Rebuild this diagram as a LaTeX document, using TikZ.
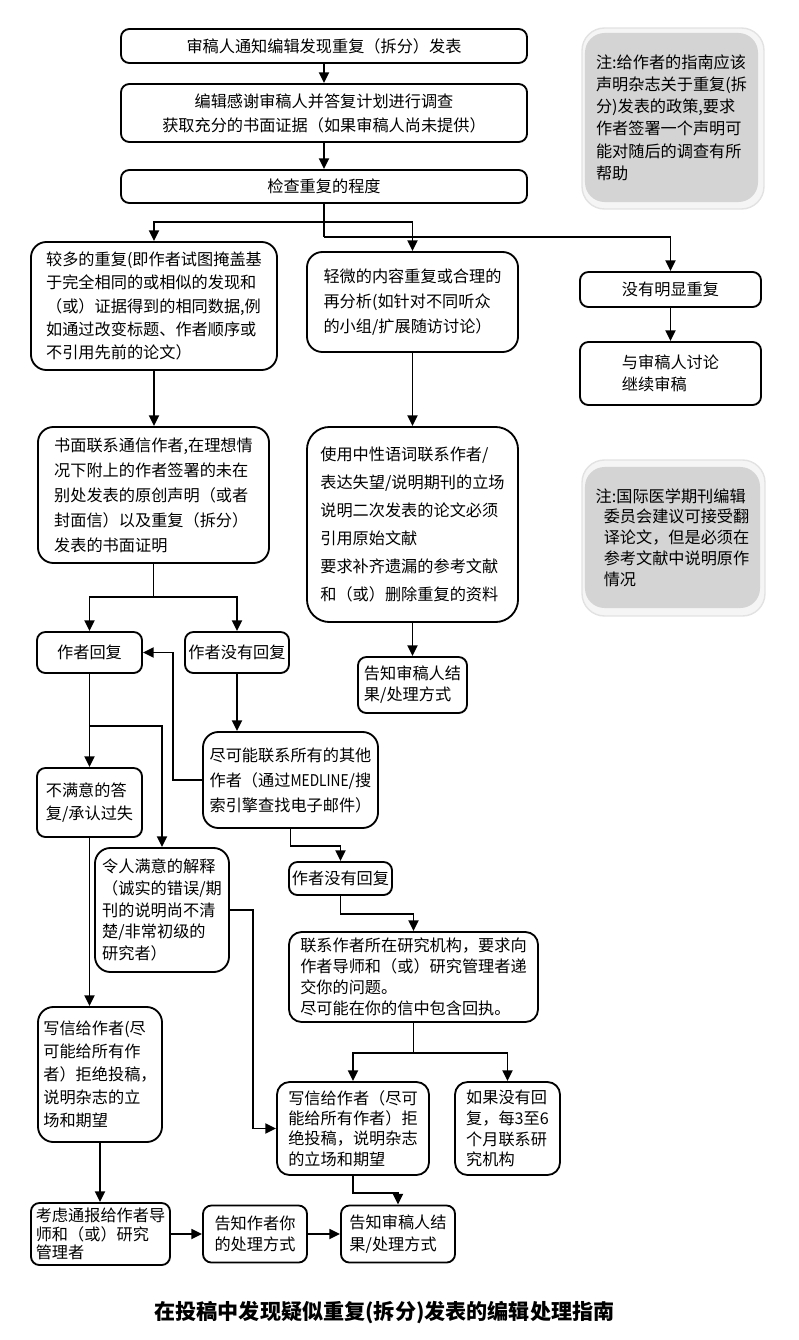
\documentclass[tikz,border=0pt]{standalone}
\usepackage{fontspec}
\setmainfont{Noto Sans CJK SC}
\usetikzlibrary{arrows.meta,positioning}
\definecolor{notegray}{HTML}{D4D4D4}
\definecolor{notehalo}{HTML}{F5F5F5}
\definecolor{haloedge}{HTML}{E2E2E2}

\begin{document}
\begin{tikzpicture}[x=0.025cm,y=-0.025cm,
  box/.style={draw,line width=1.3pt,rounded corners=6pt,inner sep=2pt,align=left,
    font=\fontsize{11.5}{17}\selectfont},
  bigbox/.style={box,rounded corners=11pt},
  note/.style={fill=notegray,rounded corners=14pt,inner sep=2pt,align=left,
    font=\fontsize{11.5}{15.8}\selectfont},
  halo/.style={fill=notehalo,draw=haloedge,line width=1pt,rounded corners=16pt},
  link/.style={line width=1.3pt},
  flow/.style={link,-{Triangle[length=0.27cm,width=0.25cm]}}]

  \useasboundingbox (0,0) rectangle (799,1340);

  % ---- Top chain ---------------------------------------------
  \node[box,minimum width=10.15cm,minimum height=0.85cm] (notify) at (324,46)
    {审稿人通知编辑发现重复（拆分）发表};
  \node[box,align=center,minimum width=10.15cm,minimum height=1.45cm] (thank) at (324,113)
    {编辑感谢审稿人并答复计划进行调查\\获取充分的书面证据（如果审稿人尚未提供）};
  \node[box,minimum width=10.15cm,minimum height=0.825cm] (check) at (324,186.5)
    {检查重复的程度};

  % ---- Notes (right) -----------------------------------------
  \draw[halo] (582,28) rectangle (764,209);
  \node[note,minimum width=4.325cm,minimum height=4.225cm] (note1) at (671.5,117.5)
    {注:给作者的指南应该\\声明杂志关于重复(拆\\分)发表的政策,要求\\作者签署一个声明可\\能对随后的调查有所\\帮助};
  \draw[halo] (582,460) rectangle (765,616);
  \node[note,minimum width=4.375cm,minimum height=3.525cm,font=\fontsize{11.5}{14.8}\selectfont]
    (note2) at (672.5,537.5)
    {注:国际医学期刊编辑\\\hspace*{0.5em}委员会建议可接受翻\\\hspace*{0.5em}译论文，但是必须在\\\hspace*{0.5em}参考文献中说明原作\\\hspace*{0.5em}情况};

  % ---- Three branches ----------------------------------------
  \node[bigbox,minimum width=6.15cm,minimum height=3.2cm,font=\fontsize{11.5}{16.6}\selectfont]
    (major) at (154,306)
    {较多的重复(即作者试图掩盖基\\于完全相同的或相似的发现和\\（或）证据得到的相同数据,例\\如通过改变标题、作者顺序或\\不引用先前的论文）};
  \node[bigbox,minimum width=5.275cm,minimum height=2.5cm,font=\fontsize{11.5}{17.8}\selectfont]
    (minor) at (412.5,302)
    {轻微的内容重复或合理的\\再分析(如针对不同听众\\的小组/扩展随访讨论）};
  \node[box,minimum width=4.525cm,minimum height=0.875cm] (none) at (670.5,289.5)
    {没有明显重复};
  \node[box,minimum width=4.525cm,minimum height=1.575cm,font=\fontsize{11.5}{15.5}\selectfont]
    (discuss) at (670.5,373.5) {与审稿人讨论\\继续审稿};

  % ---- Second level ------------------------------------------
  \node[bigbox,minimum width=5.775cm,minimum height=3.4cm,font=\fontsize{11.5}{17.8}\selectfont]
    (contact) at (153.5,495)
    {书面联系通信作者,在理想情\\况下附上的作者签署的未在\\别处发表的原创声明（或者\\封面信）以及重复（拆分）\\发表的书面证明};
  \node[bigbox,rounded corners=16pt,minimum width=5.275cm,minimum height=4.875cm,
    font=\fontsize{11.5}{19.9}\selectfont] (neutral) at (412.5,524.5)
    {使用中性语词联系作者/\\表达失望/说明期刊的立场\\说明二次发表的论文必须\\引用原始文献\\要求补齐遗漏的参考文献\\和（或）删除重复的资料};
  \node[box,minimum width=2.725cm,minimum height=1.4cm,font=\fontsize{11.5}{15}\selectfont]
    (inform1) at (412.5,685) {告知审稿人结\\果/处理方式};

  % ---- Author replies or not ---------------------------------
  \node[box,minimum width=2.625cm,minimum height=1.025cm] (reply) at (89.5,652.5) {作者回复};
  \node[box,minimum width=2.6cm,minimum height=1.025cm] (silent) at (237,652.5) {作者没有回复};
  \node[bigbox,minimum width=4.375cm,minimum height=2.4cm,font=\fontsize{11.5}{17.8}\selectfont]
    (others) at (290.5,780)
    {尽可能联系所有的其他\\作者（通过\scalebox{0.85}[1]{MEDLINE}/搜\\索引擎查找电子邮件）};
  \node[box,minimum width=2.625cm,minimum height=1.725cm,font=\fontsize{11.5}{16.6}\selectfont]
    (unsat) at (89.5,802.5) {不满意的答\\复/承认过失};
  \node[bigbox,minimum width=3.35cm,minimum height=3.1cm,font=\fontsize{11.5}{15.4}\selectfont]
    (sat) at (162,910)
    {令人满意的解释\\（诚实的错误/期\\刊的说明尚不清\\楚/非常初级的\\研究者）};
  \node[box,minimum width=2.575cm,minimum height=0.825cm] (silent2) at (340.5,878.5) {作者没有回复};
  \node[box,rounded corners=9pt,minimum width=6.225cm,minimum height=2.25cm,
    font=\fontsize{11.5}{15}\selectfont] (institute) at (413.5,977)
    {联系作者所在研究机构，要求向\\作者导师和（或）研究管理者递\\交你的问题。\\尽可能在你的信中包含回执。};

  % ---- Letters and outcomes ----------------------------------
  \node[bigbox,minimum width=3.1cm,minimum height=3.375cm,font=\fontsize{11.5}{16.4}\selectfont]
    (reject1) at (100,1074.5)
    {写信给作者(尽\\可能给所有作\\者）拒绝投稿，\\说明杂志的立\\场和期望};
  \node[box,rounded corners=9pt,minimum width=3.8cm,minimum height=2.325cm,
    font=\fontsize{11.5}{14.5}\selectfont] (reject2) at (353,1128.5)
    {写信给作者（尽可\\能给所有作者）拒\\绝投稿，说明杂志\\的立场和期望};
  \node[box,rounded corners=9pt,minimum width=2.625cm,minimum height=2.325cm,
    font=\fontsize{11.5}{14.8}\selectfont] (monthly) at (507.5,1128.5)
    {如果没有回\\复，每3至6\\个月联系研\\究机构};
  \node[box,minimum width=3.475cm,minimum height=1.55cm,font=\fontsize{11.5}{13}\selectfont]
    (report) at (100.5,1234) {考虑通报给作者导\\师和（或）研究\\管理者};
  \node[box,minimum width=2.6cm,minimum height=1.425cm,font=\fontsize{11.5}{15.4}\selectfont]
    (tellauthor) at (255,1234) {告知作者你\\的处理方式};
  \node[box,minimum width=2.85cm,minimum height=1.425cm,font=\fontsize{11.5}{15.4}\selectfont]
    (inform2) at (398,1234) {告知审稿人结\\果/处理方式};

  % Caption
  \node[font=\fontsize{15}{18}\selectfont\bfseries] (caption) at (384.5,1313)
    {在投稿中发现疑似重复(拆分)发表的编辑处理指南};

  % ---- Connectors --------------------------------------------
  \coordinate (fork1) at (324,222);
  \coordinate (fork2) at (324,237);
  \coordinate (fork3) at (153.5,597);
  \coordinate (fork4) at (89.5,726);
  \coordinate (fork5) at (413.5,1053);
  \coordinate (back) at (173,652.5);

  \draw[flow] (notify.south) -- (thank.north);
  \draw[flow] (thank.south) -- (check.north);
  \draw[link] (check.south) -- (fork2);
  \draw[flow] (fork1) -| (major.north);
  \draw[flow] (fork1) -| (minor.north);
  \draw[flow] (fork2) -| (none.north);
  \draw[flow] (none.south) -- (discuss.north);

  \draw[flow] (major.south) -- (major.south |- contact.north);
  \draw[flow] (minor.south) -- (neutral.north);
  \draw[flow] (neutral.south) -- (inform1.north);

  \draw[link] (contact.south) -- (fork3);
  \draw[flow] (fork3) -| (reply.north);
  \draw[flow] (fork3) -| (silent.north);
  \draw[flow] (silent.south) -- (silent.south |- others.north);
  \draw[flow] (others.west) -| (back) -- (reply.east);

  \draw[flow] (reply.south) -- (unsat.north);
  \draw[flow] (fork4) -| (sat.north);
  \draw[flow] (others.south) -- ++(0,17) -| (silent2.north);
  \draw[flow] (silent2.south) -- ++(0,18) -| (institute.north);

  \draw[link] (institute.south) -- (fork5);
  \draw[flow] (fork5) -| (reject2.north);
  \draw[flow] (fork5) -| (monthly.north);
  \draw[flow] (sat.east) -- ++(23,0) |- (reject2.west);

  \draw[flow] (unsat.south) -- (unsat.south |- reject1.north);
  \draw[flow] (reject1.south) -- (reject1.south |- report.north);
  \draw[flow] (report.east) -- (tellauthor.west);
  \draw[flow] (tellauthor.east) -- (inform2.west);
  \draw[flow] (reject2.south) -- ++(0,17) -| (inform2.north);

\end{tikzpicture}
\end{document}
